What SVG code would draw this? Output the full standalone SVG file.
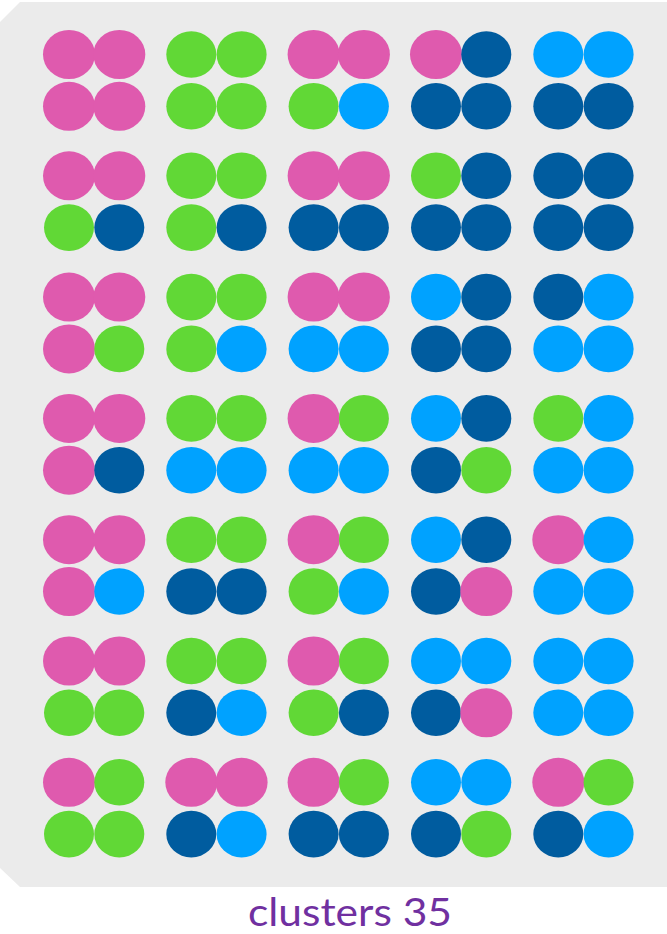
<svg xmlns="http://www.w3.org/2000/svg" xmlns:xlink="http://www.w3.org/1999/xlink" width="667" height="934" viewBox="0 0 667 934">
<style>
.bg{fill:#EBEBEB}
.lbl{font-family:Lato,"Open Sans","Liberation Sans",sans-serif;font-size:38px;fill:#7030A0}
</style>
<defs>
<ellipse id="P" cx="0" cy="0" rx="26" ry="24.5" fill="#DF5AAE"/>
<ellipse id="G" cx="0" cy="0" rx="25" ry="23.3" fill="#61D836"/>
<ellipse id="L" cx="0" cy="0" rx="25" ry="23.3" fill="#00A2FF"/>
<ellipse id="D" cx="0" cy="0" rx="25" ry="23.3" fill="#005C9F"/>
</defs>
<polygon class="bg" points="20,2 667,2 667,887 20,887 0,868 0,22"/>
<!-- row 1 -->
<g id="c1-1" transform="translate(69,54.5)"><use href="#P"/><use href="#P" x="50.3"/><use href="#P" y="51.8"/><use href="#P" x="50.3" y="51.8"/></g>
<g id="c1-2" transform="translate(191.3,54.5)"><use href="#G"/><use href="#G" x="50.3"/><use href="#G" y="51.8"/><use href="#G" x="50.3" y="51.8"/></g>
<g id="c1-3" transform="translate(313.6,54.5)"><use href="#P"/><use href="#P" x="50.3"/><use href="#G" y="51.8"/><use href="#L" x="50.3" y="51.8"/></g>
<g id="c1-4" transform="translate(436,54.5)"><use href="#P"/><use href="#D" x="50.3"/><use href="#D" y="51.8"/><use href="#D" x="50.3" y="51.8"/></g>
<g id="c1-5" transform="translate(558.3,54.5)"><use href="#L"/><use href="#L" x="50.3"/><use href="#D" y="51.8"/><use href="#D" x="50.3" y="51.8"/></g>
<!-- row 2 -->
<g id="c2-1" transform="translate(69,175.8)"><use href="#P"/><use href="#P" x="50.3"/><use href="#G" y="51.8"/><use href="#D" x="50.3" y="51.8"/></g>
<g id="c2-2" transform="translate(191.3,175.8)"><use href="#G"/><use href="#G" x="50.3"/><use href="#G" y="51.8"/><use href="#D" x="50.3" y="51.8"/></g>
<g id="c2-3" transform="translate(313.6,175.8)"><use href="#P"/><use href="#P" x="50.3"/><use href="#D" y="51.8"/><use href="#D" x="50.3" y="51.8"/></g>
<g id="c2-4" transform="translate(436,175.8)"><use href="#G"/><use href="#D" x="50.3"/><use href="#D" y="51.8"/><use href="#D" x="50.3" y="51.8"/></g>
<g id="c2-5" transform="translate(558.3,175.8)"><use href="#D"/><use href="#D" x="50.3"/><use href="#D" y="51.8"/><use href="#D" x="50.3" y="51.8"/></g>
<!-- row 3 -->
<g id="c3-1" transform="translate(69,297.1)"><use href="#P"/><use href="#P" x="50.3"/><use href="#P" y="51.8"/><use href="#G" x="50.3" y="51.8"/></g>
<g id="c3-2" transform="translate(191.3,297.1)"><use href="#G"/><use href="#G" x="50.3"/><use href="#G" y="51.8"/><use href="#L" x="50.3" y="51.8"/></g>
<g id="c3-3" transform="translate(313.6,297.1)"><use href="#P"/><use href="#P" x="50.3"/><use href="#L" y="51.8"/><use href="#L" x="50.3" y="51.8"/></g>
<g id="c3-4" transform="translate(436,297.1)"><use href="#L"/><use href="#D" x="50.3"/><use href="#D" y="51.8"/><use href="#D" x="50.3" y="51.8"/></g>
<g id="c3-5" transform="translate(558.3,297.1)"><use href="#D"/><use href="#L" x="50.3"/><use href="#L" y="51.8"/><use href="#L" x="50.3" y="51.8"/></g>
<!-- row 4 -->
<g id="c4-1" transform="translate(69,418.4)"><use href="#P"/><use href="#P" x="50.3"/><use href="#P" y="51.8"/><use href="#D" x="50.3" y="51.8"/></g>
<g id="c4-2" transform="translate(191.3,418.4)"><use href="#G"/><use href="#G" x="50.3"/><use href="#L" y="51.8"/><use href="#L" x="50.3" y="51.8"/></g>
<g id="c4-3" transform="translate(313.6,418.4)"><use href="#P"/><use href="#G" x="50.3"/><use href="#L" y="51.8"/><use href="#L" x="50.3" y="51.8"/></g>
<g id="c4-4" transform="translate(436,418.4)"><use href="#L"/><use href="#D" x="50.3"/><use href="#D" y="51.8"/><use href="#G" x="50.3" y="51.8"/></g>
<g id="c4-5" transform="translate(558.3,418.4)"><use href="#G"/><use href="#L" x="50.3"/><use href="#L" y="51.8"/><use href="#L" x="50.3" y="51.8"/></g>
<!-- row 5 -->
<g id="c5-1" transform="translate(69,539.7)"><use href="#P"/><use href="#P" x="50.3"/><use href="#P" y="51.8"/><use href="#L" x="50.3" y="51.8"/></g>
<g id="c5-2" transform="translate(191.3,539.7)"><use href="#G"/><use href="#G" x="50.3"/><use href="#D" y="51.8"/><use href="#D" x="50.3" y="51.8"/></g>
<g id="c5-3" transform="translate(313.6,539.7)"><use href="#P"/><use href="#G" x="50.3"/><use href="#G" y="51.8"/><use href="#L" x="50.3" y="51.8"/></g>
<g id="c5-4" transform="translate(436,539.7)"><use href="#L"/><use href="#D" x="50.3"/><use href="#D" y="51.8"/><use href="#P" x="50.3" y="51.8"/></g>
<g id="c5-5" transform="translate(558.3,539.7)"><use href="#P"/><use href="#L" x="50.3"/><use href="#L" y="51.8"/><use href="#L" x="50.3" y="51.8"/></g>
<!-- row 6 -->
<g id="c6-1" transform="translate(69,661)"><use href="#P"/><use href="#P" x="50.3"/><use href="#G" y="51.8"/><use href="#G" x="50.3" y="51.8"/></g>
<g id="c6-2" transform="translate(191.3,661)"><use href="#G"/><use href="#G" x="50.3"/><use href="#D" y="51.8"/><use href="#L" x="50.3" y="51.8"/></g>
<g id="c6-3" transform="translate(313.6,661)"><use href="#P"/><use href="#G" x="50.3"/><use href="#G" y="51.8"/><use href="#D" x="50.3" y="51.8"/></g>
<g id="c6-4" transform="translate(436,661)"><use href="#L"/><use href="#L" x="50.3"/><use href="#D" y="51.8"/><use href="#P" x="50.3" y="51.8"/></g>
<g id="c6-5" transform="translate(558.3,661)"><use href="#L"/><use href="#L" x="50.3"/><use href="#L" y="51.8"/><use href="#L" x="50.3" y="51.8"/></g>
<!-- row 7 -->
<g id="c7-1" transform="translate(69,782.3)"><use href="#P"/><use href="#G" x="50.3"/><use href="#G" y="51.8"/><use href="#G" x="50.3" y="51.8"/></g>
<g id="c7-2" transform="translate(191.3,782.3)"><use href="#P"/><use href="#P" x="50.3"/><use href="#D" y="51.8"/><use href="#L" x="50.3" y="51.8"/></g>
<g id="c7-3" transform="translate(313.6,782.3)"><use href="#P"/><use href="#G" x="50.3"/><use href="#D" y="51.8"/><use href="#D" x="50.3" y="51.8"/></g>
<g id="c7-4" transform="translate(436,782.3)"><use href="#L"/><use href="#L" x="50.3"/><use href="#D" y="51.8"/><use href="#G" x="50.3" y="51.8"/></g>
<g id="c7-5" transform="translate(558.3,782.3)"><use href="#P"/><use href="#G" x="50.3"/><use href="#D" y="51.8"/><use href="#L" x="50.3" y="51.8"/></g>
<g id="label"><text class="lbl" x="350" y="926" text-anchor="middle" textLength="204" lengthAdjust="spacingAndGlyphs">clusters 35</text></g>
</svg>
